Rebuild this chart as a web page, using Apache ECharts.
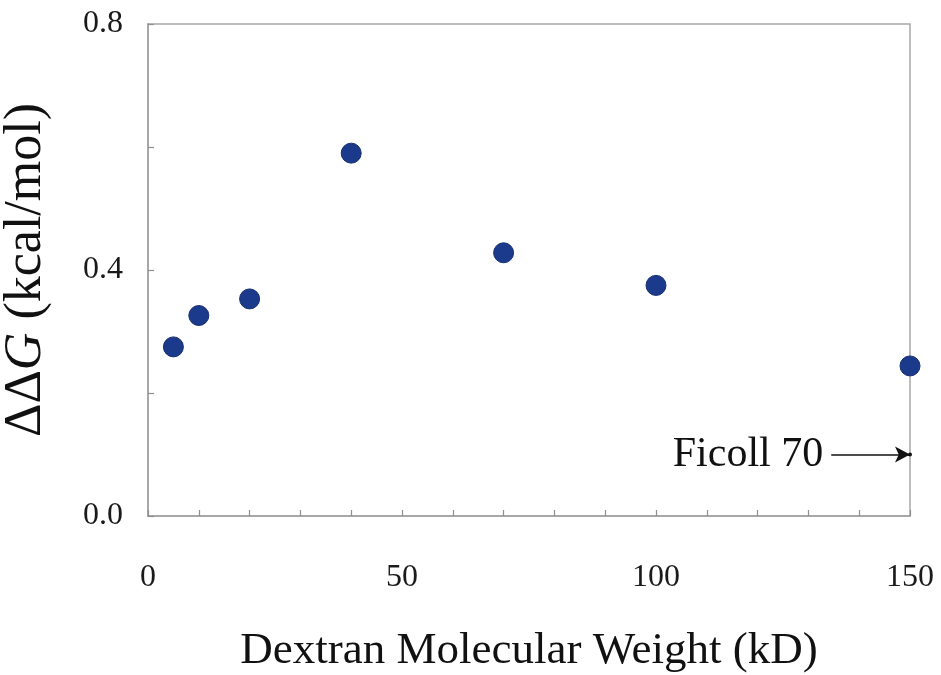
<!DOCTYPE html>
<html>
<head>
<meta charset="utf-8">
<script src="https://cdn.jsdelivr.net/npm/echarts@6/dist/echarts.min.js"></script>
<style>html,body{margin:0;padding:0;background:#fff;}#c{width:941px;height:675px;}</style>
</head>
<body>
<div id="c"></div>
<script>
// Data
const dextranMW = [5, 10, 20, 40, 70, 100, 150];
const deltaDeltaG = [0.275, 0.326, 0.353, 0.590, 0.428, 0.375, 0.244];
const ficollLabel = 'Ficoll 70';
const ficollPoint = [150, 0.1];
const arrowStart = [134.5, 0.1];
const xTickLabels = [0, 50, 100, 150];
const yTickLabels = [0.0, 0.4, 0.8];
const xTitle = 'Dextran Molecular Weight (kD)';
const yTitle = '{n|ΔΔ}{i|G}{n| (kcal/mol)}';

const serif = '"Liberation Serif", "Times New Roman", serif';
const chart = echarts.init(document.getElementById('c'), null, {renderer: 'canvas'});
chart.setOption({
  animation: false,
  backgroundColor: '#ffffff',
  grid: {left: 148, right: 31, top: 24, bottom: 159, containLabel: false, outerBoundsMode: 'none',
         show: true, borderColor: '#a8a8a8', borderWidth: 1.5, backgroundColor: 'transparent'},
  xAxis: {
    type: 'value', min: 0, max: 150, interval: 10,
    splitLine: {show: false},
    axisLine: {lineStyle: {color: '#a0a0a0', width: 1.5}},
    axisTick: {inside: true, length: 6, lineStyle: {color: '#909090', width: 1.2}},
    axisLabel: {
      margin: 46, fontFamily: serif, fontSize: 32, color: '#1a1a1a',
      formatter: v => xTickLabels.includes(Math.round(v)) ? String(Math.round(v)) : ''
    },
    name: xTitle, nameLocation: 'middle', nameGap: 113,
    nameTextStyle: {fontFamily: serif, fontSize: 45, color: '#111'}
  },
  yAxis: {
    type: 'value', min: 0, max: 0.8, interval: 0.2,
    splitLine: {show: false},
    axisLine: {lineStyle: {color: '#a0a0a0', width: 1.5}},
    axisTick: {inside: true, length: 6, lineStyle: {color: '#909090', width: 1.2}},
    axisLabel: {
      margin: 25, fontFamily: serif, fontSize: 32, color: '#1a1a1a', padding: [6, 0, 0, 0],
      formatter: v => {
        const r = Math.round(v * 10) / 10;
        return yTickLabels.some(t => Math.abs(t - r) < 1e-6) ? r.toFixed(1) : '';
      }
    },
    name: yTitle, nameLocation: 'middle', nameGap: 96, nameRotate: 90,
    nameTextStyle: {
      fontFamily: serif, fontSize: 52, color: '#111',
      rich: {
        n: {fontFamily: serif, fontSize: 52, color: '#111'},
        i: {fontFamily: serif, fontSize: 52, fontStyle: 'italic', color: '#111'}
      }
    }
  },
  series: [
    {
      type: 'scatter',
      data: dextranMW.map((x, i) => [x, deltaDeltaG[i]]),
      symbol: 'circle', symbolSize: 20,
      itemStyle: {color: '#1c3a8c', opacity: 1, borderColor: '#17306f', borderWidth: 1},
      silent: true,
      markLine: {
        silent: true,
        symbol: ['none', 'arrow'],
        symbolSize: [12, 15],
        lineStyle: {color: '#111', width: 1.5, type: 'solid', opacity: 1},
        label: {
          show: true, position: 'start', distance: 8,
          formatter: ficollLabel, fontFamily: serif, fontSize: 42, color: '#111'
        },
        data: [[{coord: arrowStart}, {coord: ficollPoint}]]
      }
    },
    {
      type: 'scatter',
      data: [ficollPoint],
      symbol: 'circle', symbolSize: 4,
      itemStyle: {color: '#111', opacity: 1},
      silent: true
    }
  ]
});
</script>
</body>
</html>
